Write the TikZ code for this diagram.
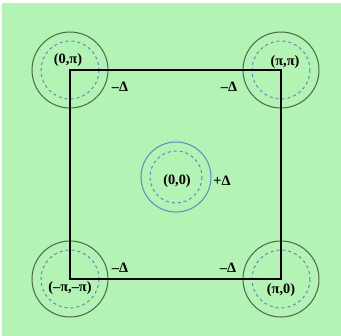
\documentclass[tikz,border=0pt]{standalone}
\usepackage{fontspec}
\setmainfont{Liberation Serif}

\begin{document}
\begin{tikzpicture}[x=0.6pt, y=-0.6pt]

% =======================================================
% Color definitions
% =======================================================
\definecolor{bzbg}{HTML}{B3F3B3}     % background
\definecolor{bzring}{HTML}{4A684A}   % outer pocket circles
\definecolor{bzblue}{HTML}{5A8CC8}   % dashed circles and centre pocket

% =======================================================
% Layout parameters
% =======================================================
\def\rout{38}    % outer radius of corner pockets
\def\rin{29}     % dashed radius of corner pockets
\def\rcout{35}   % outer radius of centre pocket
\def\rcin{26}    % dashed radius of centre pocket

% =======================================================
% Styles
% =======================================================
\tikzset{
  zone/.style   = {line width=1.3pt, black},
  ring/.style   = {line width=0.6pt, bzring},
  fermi/.style  = {line width=0.6pt, bzblue, dash pattern=on 1.8pt off 1.8pt},
  klabel/.style = {font=\fontsize{8.6}{10}\selectfont\bfseries, inner sep=0pt},
}

% Frame
\useasboundingbox (0,0) rectangle (341,336);
\fill[bzbg] (2,3) rectangle (341,336);

% Corners of the zone
\coordinate (Kmm) at (70,279);   % (-pi,-pi)
\coordinate (K0p) at (70,70);    % (0,pi)
\coordinate (Kpp) at (281,70);   % (pi,pi)
\coordinate (Kp0) at (281,279);  % (pi,0)
\coordinate (K00) at (176,177);  % (0,0)

% =======================================================
% Corner pockets
% =======================================================
\foreach \k in {Kmm, K0p, Kpp, Kp0} {
  \draw[ring]  (\k) circle (\rout);
  \draw[fermi] (\k) circle (\rin);
}

% Centre pocket
\draw[bzblue, line width=0.6pt] (K00) circle (\rcout);
\draw[fermi] (K00) circle (\rcin);

% Zone boundary
\draw[zone] (Kmm) -- (K0p) -- (Kpp) -- (Kp0) -- cycle;

% =======================================================
% Labels
% =======================================================
\node[klabel] (l0p) at (68,60)   {(0,π)};
\node[klabel] (d0p) at (120,87)  {–Δ};
\node[klabel] (lpp) at (285,62)  {(π,π)};
\node[klabel] (dpp) at (229,87)  {–Δ};
\node[klabel] (l00) at (177,181) {(0,0)};
\node[klabel] (d00) at (222,181) {+Δ};
\node[klabel] (dmm) at (120,268) {–Δ};
\node[klabel] (lmm) at (70,288)  {(–π,–π)};
\node[klabel] (dp0) at (228,268) {–Δ};
\node[klabel] (lp0) at (281,290) {(π,0)};

\end{tikzpicture}
\end{document}
